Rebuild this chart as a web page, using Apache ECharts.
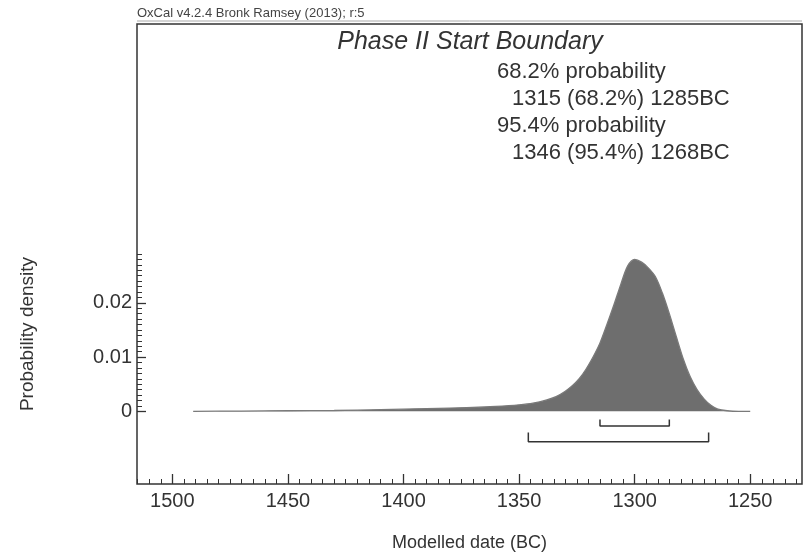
<!DOCTYPE html>
<html>
<head>
<meta charset="utf-8">
<script src="https://cdn.jsdelivr.net/npm/echarts@6/dist/echarts.min.js"></script>
<style>
  html, body { margin: 0; padding: 0; background: #fff; }
  #main { width: 804px; height: 553px; }
</style>
</head>
<body>
<div id="main"></div>
<script>
// modelled date (BC) and probability density
var years = [1491, 1470, 1450, 1430, 1410, 1400, 1390, 1380, 1370, 1360, 1350, 1344, 1338, 1334, 1330, 1327, 1324, 1321, 1318, 1315, 1312, 1309, 1306, 1303, 1300, 1297, 1294, 1291, 1288, 1285, 1282, 1279, 1276, 1273, 1270, 1267, 1264, 1260, 1255, 1250]
var density = [0, 0.00005, 0.0001, 0.00015, 0.0003, 0.0004, 0.0005, 0.0006, 0.0007, 0.0009, 0.0012, 0.0015, 0.0021, 0.0027, 0.0037, 0.0047, 0.0060, 0.0078, 0.0100, 0.0126, 0.0160, 0.0196, 0.0234, 0.0268, 0.0280, 0.0275, 0.0264, 0.0248, 0.0218, 0.0180, 0.0138, 0.0097, 0.0064, 0.0040, 0.0023, 0.0011, 0.0004, 0.0001, 0, 0]

// highest posterior density ranges
var range68 = [1315, 1285]
var range95 = [1346, 1268]

// tick labels
var yearTicks = [1500, 1450, 1400, 1350, 1300, 1250]
var densityTicks = [0, 0.01, 0.02]

var minorYears = []
for (let y = 1230; y <= 1515; y += 5) minorYears.push(y)
var minorDensity = []
for (let i = 0; i <= 29; i++) minorDensity.push(i / 1000)

var textColor = '#333'
var font = '"Liberation Sans", Arial, sans-serif'

function bracket(range, level, tick) {
  return [
    [range[0], level + tick],
    [range[0], level],
    [range[1], level],
    [range[1], level + tick]
  ]
}

var curve = years.map(function (y, i) { return [y, density[i]] })

var myChart = echarts.init(document.getElementById('main'))
var option = {
  animation: false,
  textStyle: { fontFamily: font },
  grid: {
    left: 137, top: 24, right: 2, bottom: 69,
    outerBoundsMode: 'none', containLabel: false,
    show: true, borderColor: '#333', borderWidth: 1.5
  },
  graphic: [
    {
      type: 'text', left: 137, top: 7,
      style: { text: 'OxCal v4.2.4 Bronk Ramsey (2013); r:5', fill: '#444', font: '13px ' + font }
    },
    {
      type: 'line', shape: { x1: 137, y1: 21, x2: 802, y2: 21 },
      style: { stroke: '#aaa', lineWidth: 1 }
    },
    {
      type: 'text', x: 470, y: 42,
      style: { text: 'Phase II Start Boundary', font: 'italic 25px ' + font, fill: textColor, align: 'center', verticalAlign: 'middle' }
    },
    {
      type: 'text', x: 497, y: 72,
      style: { text: '68.2% probability', font: '22px ' + font, fill: textColor, verticalAlign: 'middle' }
    },
    {
      type: 'text', x: 512, y: 99,
      style: { text: range68[0] + ' (68.2%) ' + range68[1] + 'BC', font: '22px ' + font, fill: textColor, verticalAlign: 'middle' }
    },
    {
      type: 'text', x: 497, y: 126,
      style: { text: '95.4% probability', font: '22px ' + font, fill: textColor, verticalAlign: 'middle' }
    },
    {
      type: 'text', x: 512, y: 153,
      style: { text: range95[0] + ' (95.4%) ' + range95[1] + 'BC', font: '22px ' + font, fill: textColor, verticalAlign: 'middle' }
    },
    {
      type: 'text', x: 28, y: 334, rotation: Math.PI / 2,
      style: { text: 'Probability density', font: '19px ' + font, fill: textColor, align: 'center', verticalAlign: 'middle' }
    }
  ],
  xAxis: [
    {
      type: 'value', inverse: true, min: 1227.6, max: 1515.3,
      axisLine: { show: false, onZero: false }, splitLine: { show: false },
      axisTick: { inside: true, length: 10, customValues: yearTicks, lineStyle: { color: '#333', width: 1.3 } },
      axisLabel: {
        customValues: yearTicks, color: textColor, fontSize: 20, margin: 7,
        formatter: function (v) { return String(v) }
      },
      name: 'Modelled date (BC)', nameLocation: 'middle', nameGap: 50,
      nameTextStyle: { color: textColor, fontSize: 18 }
    },
    {
      type: 'value', inverse: true, min: 1227.6, max: 1515.3, position: 'bottom',
      axisLine: { show: false, onZero: false }, splitLine: { show: false },
      axisTick: { inside: true, length: 5, customValues: minorYears, lineStyle: { color: '#333', width: 1 } },
      axisLabel: { show: false }
    }
  ],
  yAxis: [
    {
      type: 'value', min: -0.0134, max: 0.0714,
      axisLine: { show: false, onZero: false }, splitLine: { show: false },
      axisTick: { inside: true, length: 9, customValues: densityTicks, lineStyle: { color: '#333', width: 1.3 } },
      axisLabel: {
        customValues: densityTicks, color: textColor, fontSize: 20, margin: 5,
        formatter: function (v) { return v === 0 ? '0' : v.toFixed(2) }
      }
    },
    {
      type: 'value', min: -0.0134, max: 0.0714, position: 'left',
      axisLine: { show: false, onZero: false }, splitLine: { show: false },
      axisTick: { inside: true, length: 5, customValues: minorDensity, lineStyle: { color: '#333', width: 1 } },
      axisLabel: { show: false }
    }
  ],
  series: [
    {
      type: 'line', data: curve, smooth: 0.3, symbol: 'none', silent: true,
      lineStyle: { color: '#7a7a7a', width: 1.3 },
      areaStyle: { color: '#6e6e6e', opacity: 1 }
    },
    {
      type: 'line', data: bracket(range68, -0.0027, 0.0012), symbol: 'none', silent: true,
      lineStyle: { color: '#333', width: 1.5 }
    },
    {
      type: 'line', data: bracket(range95, -0.0056, 0.0017), symbol: 'none', silent: true,
      lineStyle: { color: '#333', width: 1.5 }
    }
  ]
}
myChart.setOption(option)
</script>
</body>
</html>
